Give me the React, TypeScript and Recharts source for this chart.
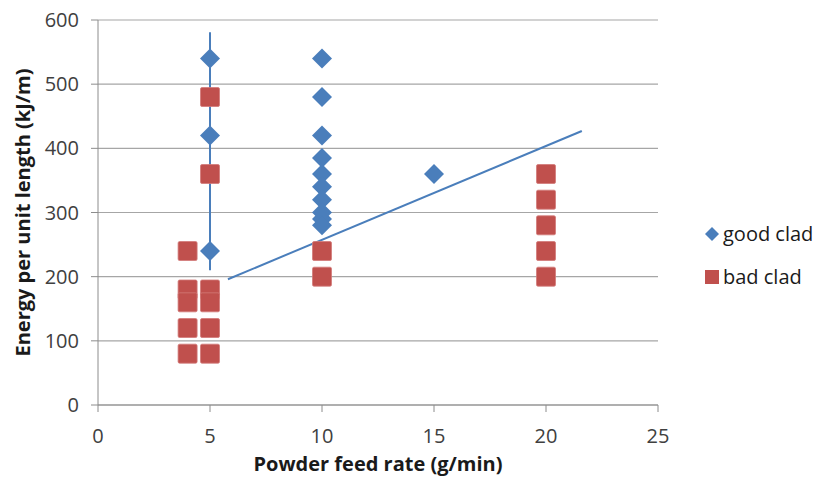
import React from 'react';
import {
  ScatterChart,
  Scatter,
  XAxis,
  YAxis,
  CartesianGrid,
  Legend,
  Label,
} from 'recharts';

// values
const goodFeed = [5, 5, 5, 10, 10, 10, 10, 10, 10, 10, 10, 10, 10, 15];
const goodEnergy = [540, 420, 240, 540, 480, 420, 385, 360, 340, 320, 300, 290, 280, 360];

const badFeed = [4, 4, 4, 4, 4, 5, 5, 5, 5, 5, 5, 10, 10, 20, 20, 20, 20, 20];
const badEnergy = [240, 180, 160, 120, 80, 480, 360, 180, 160, 120, 80, 240, 200, 360, 320, 280, 240, 200];

const verticalFeed = [5, 5];
const verticalEnergy = [581, 210];

const boundaryFeed = [5.8, 21.6];
const boundaryEnergy = [196, 427];

const xTicks = [0, 5, 10, 15, 20, 25];
const yTicks = [0, 100, 200, 300, 400, 500, 600];

const BLUE = '#4a7ebb';
const RED = '#c0504d';
const FONT = '"Open Sans", "Noto Sans", sans-serif';

const zip = (xs: number[], ys: number[]) => xs.map((x, i) => ({ x, y: ys[i] }));

const goodData = zip(goodFeed, goodEnergy);
const badData = zip(badFeed, badEnergy);
const verticalData = zip(verticalFeed, verticalEnergy);
const boundaryData = zip(boundaryFeed, boundaryEnergy);

const Diamond = (props: any) => {
  const { cx, cy } = props;
  const r = 10;
  return (
    <polygon
      points={`${cx},${cy - r} ${cx + r},${cy} ${cx},${cy + r} ${cx - r},${cy}`}
      fill={BLUE}
    />
  );
};

const Square = (props: any) => {
  const { cx, cy } = props;
  const s = 19;
  return (
    <rect x={cx - s / 2} y={cy - s / 2} width={s} height={s} rx={1.5} fill={RED} stroke="#d27a78" strokeWidth={0.8} />
  );
};

const NoDot = () => null;

const LegendBox = () => (
  <div style={{ fontFamily: FONT, fontSize: 20, color: '#1a1a1a' }}>
    <div style={{ display: 'flex', alignItems: 'center', height: 43 }}>
      <svg width={16} height={16} style={{ marginRight: 3 }}>
        <polygon points="8,1 15,8 8,15 1,8" fill={BLUE} />
      </svg>
      good clad
    </div>
    <div style={{ display: 'flex', alignItems: 'center', height: 43 }}>
      <svg width={16} height={16} style={{ marginRight: 3 }}>
        <rect x={1} y={1} width={14} height={14} fill={RED} />
      </svg>
      bad clad
    </div>
  </div>
);

export default function App() {
  return (
    <div style={{ position: 'absolute', left: 0, top: 0, width: 824, height: 488, background: '#fff' }}>
      <ScatterChart width={824} height={488} margin={{ top: 20, right: 46, left: 38, bottom: 53 }}>
        <CartesianGrid vertical={false} stroke="#a6a6a6" strokeWidth={1.2} />
        <XAxis
          type="number"
          dataKey="x"
          domain={[0, 25]}
          ticks={xTicks}
          interval={0}
          height={30}
          stroke="#8c8c8c"
          tickSize={7}
          tickMargin={17}
          tick={{ fill: '#404040', fontSize: 20, fontFamily: FONT }}
          allowDataOverflow
        >
          <Label
            value="Powder feed rate (g/min)"
            position="bottom"
            offset={22}
            style={{ fill: '#1a1a1a', fontSize: 20, fontWeight: 700, fontFamily: FONT }}
          />
        </XAxis>
        <YAxis
          type="number"
          dataKey="y"
          domain={[0, 600]}
          ticks={yTicks}
          interval={0}
          width={60}
          stroke="#8c8c8c"
          tickSize={7}
          tickMargin={12}
          tick={{ fill: '#404040', fontSize: 20, fontFamily: FONT }}
          allowDataOverflow
        >
          <Label
            value="Energy per unit length (kJ/m)"
            angle={-90}
            position="insideLeft"
            offset={-15}
            style={{ textAnchor: 'middle', fill: '#1a1a1a', fontSize: 20, fontWeight: 700, fontFamily: FONT }}
          />
        </YAxis>
        <Legend
          layout="vertical"
          align="right"
          verticalAlign="top"
          wrapperStyle={{ left: 704, top: 212, width: 120 }}
          content={<LegendBox />}
        />
        <Scatter
          data={verticalData}
          line={{ stroke: BLUE, strokeWidth: 2 }}
          shape={NoDot}
          legendType="none"
          isAnimationActive={false}
        />
        <Scatter
          data={boundaryData}
          line={{ stroke: BLUE, strokeWidth: 2 }}
          shape={NoDot}
          legendType="none"
          isAnimationActive={false}
        />
        <Scatter name="bad clad" data={badData} shape={Square} isAnimationActive={false} />
        <Scatter name="good clad" data={goodData} shape={Diamond} isAnimationActive={false} />
      </ScatterChart>
    </div>
  );
}
